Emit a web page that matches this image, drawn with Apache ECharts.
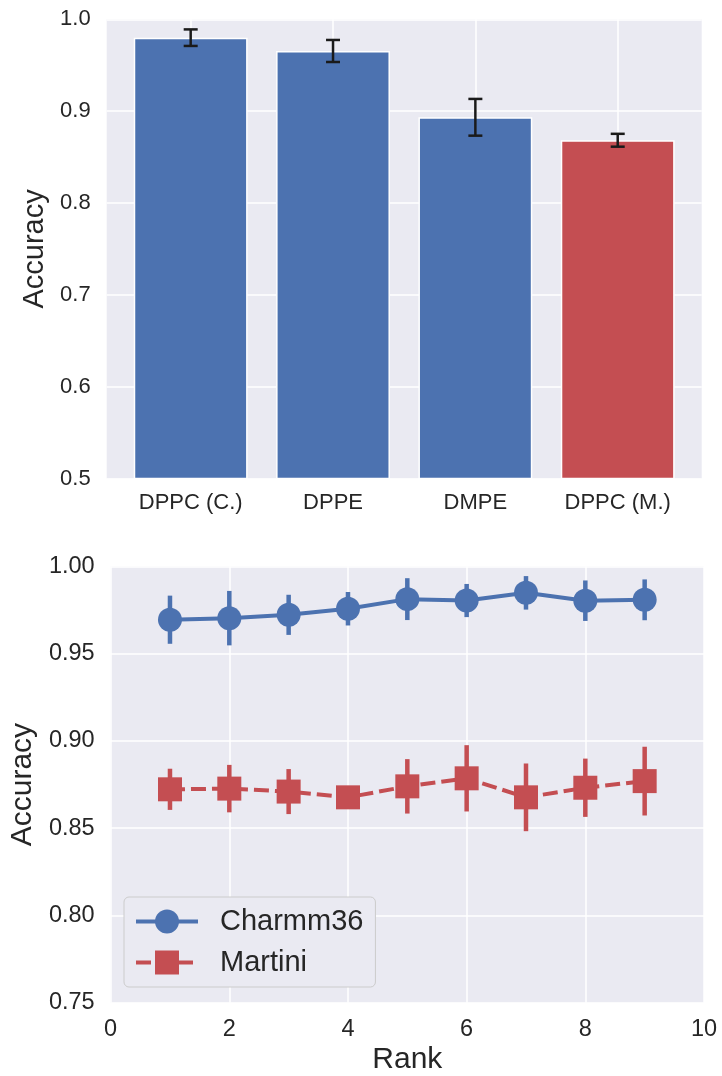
<!DOCTYPE html>
<html><head><meta charset="utf-8">
<script src="https://cdn.jsdelivr.net/npm/echarts@6/dist/echarts.min.js"></script>
<style>html,body{margin:0;padding:0;background:#fff}#c{width:722px;height:1076px}</style>
</head><body><div id="c"></div>
<script>
// ---- Top panel data ----
const lipids = ['DPPC (C.)', 'DPPE', 'DMPE', 'DPPC (M.)'];
const lipidAccuracy = [0.980, 0.9655, 0.8933, 0.8683];
const lipidError = [0.009, 0.012, 0.020, 0.007];
const lipidColors = ['#4C72B0', '#4C72B0', '#4C72B0', '#C44E52'];
const topTicks = [0.5, 0.6, 0.7, 0.8, 0.9, 1.0];

// ---- Bottom panel data ----
const ranks = [1, 2, 3, 4, 5, 6, 7, 8, 9];
const charmmAccuracy = [0.9695, 0.9704, 0.9723, 0.9758, 0.9813, 0.9805, 0.9849, 0.9804, 0.9809];
const charmmError = [0.0138, 0.0156, 0.0115, 0.0096, 0.0120, 0.0095, 0.0096, 0.0116, 0.0117];
const martiniAccuracy = [0.8723, 0.8727, 0.8710, 0.8677, 0.8740, 0.8786, 0.8677, 0.8732, 0.8770];
const martiniError = [0.0118, 0.0136, 0.0129, 0.0050, 0.0156, 0.0190, 0.0194, 0.0167, 0.0197];
const bottomTicks = [0.75, 0.80, 0.85, 0.90, 0.95, 1.00];

const BLUE = '#4C72B0', RED = '#C44E52', TXT = '#262626', FONT = '"Liberation Sans", Arial, sans-serif';
const catIdx = lipids.map((_, i) => i);

const chart = echarts.init(document.getElementById('c'), null, {renderer: 'canvas'});

function errRender(color, width, cap) {
  return function (params, api) {
    const x = api.value(0), lo = api.value(1), hi = api.value(2);
    const a = api.coord([x, lo]), b = api.coord([x, hi]);
    const st = {stroke: color, lineWidth: width};
    const ch = [{type: 'line', shape: {x1: a[0], y1: a[1], x2: b[0], y2: b[1]}, style: st}];
    if (cap > 0) {
      ch.push({type: 'line', shape: {x1: a[0] - cap, y1: a[1], x2: a[0] + cap, y2: a[1]}, style: st});
      ch.push({type: 'line', shape: {x1: b[0] - cap, y1: b[1], x2: b[0] + cap, y2: b[1]}, style: st});
    }
    return {type: 'group', children: ch};
  };
}

const option = {
  animation: false,
  textStyle: {fontFamily: FONT, color: TXT},
  grid: [
    {left: 106.7, right: 20.3, top: 19.3, height: 459.2, show: true, backgroundColor: '#EAEAF2', borderWidth: 0, containLabel: false},
    {left: 109.5, right: 18, top: 566.5, height: 436.2, show: true, backgroundColor: '#EAEAF2', borderWidth: 0, containLabel: false}
  ],
  xAxis: [
    {
      gridIndex: 0, type: 'value', min: -0.59, max: lipids.length - 1 + 0.59,
      axisLine: {show: false},
      axisTick: {show: false, customValues: catIdx},
      axisLabel: {customValues: catIdx, formatter: v => lipids[Math.round(v)], fontSize: 22, color: TXT, margin: 13, fontFamily: FONT},
      splitLine: {show: true, lineStyle: {color: '#FFFFFF', width: 1.5}}
    },
    {
      gridIndex: 1, type: 'value', min: 0, max: 10, interval: 2,
      name: 'Rank', nameLocation: 'middle', nameGap: 42,
      nameTextStyle: {fontSize: 30, color: TXT, fontFamily: FONT},
      axisLine: {show: false}, axisTick: {show: false},
      axisLabel: {fontSize: 23.5, color: TXT, margin: 15, fontFamily: FONT},
      splitLine: {show: true, lineStyle: {color: '#FFFFFF', width: 1.5}}
    }
  ],
  yAxis: [
    {
      gridIndex: 0, type: 'value', min: topTicks[0], max: topTicks[topTicks.length - 1], interval: 0.1,
      name: 'Accuracy', nameLocation: 'middle', nameRotate: 90, nameGap: 53,
      nameTextStyle: {fontSize: 29, color: TXT, fontFamily: FONT},
      axisLine: {show: false}, axisTick: {show: false},
      axisLabel: {formatter: v => v.toFixed(1), fontSize: 22, color: TXT, margin: 16, fontFamily: FONT},
      splitLine: {show: true, lineStyle: {color: '#FFFFFF', width: 1.5}}
    },
    {
      gridIndex: 1, type: 'value', min: bottomTicks[0], max: bottomTicks[bottomTicks.length - 1], interval: 0.05,
      name: 'Accuracy', nameLocation: 'middle', nameRotate: 90, nameGap: 65,
      nameTextStyle: {fontSize: 30, color: TXT, fontFamily: FONT},
      axisLine: {show: false}, axisTick: {show: false},
      axisLabel: {formatter: v => v.toFixed(2), fontSize: 23.5, color: TXT, margin: 16, fontFamily: FONT},
      splitLine: {show: true, lineStyle: {color: '#FFFFFF', width: 1.5}}
    }
  ],
  legend: {
    data: ['Charmm36', 'Martini'],
    orient: 'vertical', left: 124, top: 897,
    itemWidth: 62, itemHeight: 30, itemGap: 12,
    padding: [10, 12, 10, 10],
    selectedMode: false,
    lineStyle: {width: 4},
    textStyle: {fontSize: 29, color: TXT, fontFamily: FONT, padding: [0, 0, 0, 17]},
    backgroundColor: '#EAEAF2', borderColor: '#CCCCCC', borderWidth: 1, borderRadius: 5
  },
  series: [
    {
      type: 'bar', xAxisIndex: 0, yAxisIndex: 0, barWidth: '80%',
      data: lipids.map((n, i) => ({value: [i, lipidAccuracy[i]], itemStyle: {color: lipidColors[i]}})),
      itemStyle: {borderColor: '#FFFFFF', borderWidth: 1.5},
      z: 2
    },
    {
      type: 'custom', xAxisIndex: 0, yAxisIndex: 0,
      renderItem: errRender('#1a1a1a', 2.5, 7),
      data: lipids.map((n, i) => [i, lipidAccuracy[i] - lipidError[i], lipidAccuracy[i] + lipidError[i]]),
      encode: {x: 0, y: [1, 2]}, z: 5
    },
    {
      type: 'custom', xAxisIndex: 1, yAxisIndex: 1,
      renderItem: errRender(BLUE, 4.5, 0),
      data: ranks.map((r, i) => [r, charmmAccuracy[i] - charmmError[i], charmmAccuracy[i] + charmmError[i]]),
      encode: {x: 0, y: [1, 2]}, z: 3
    },
    {
      type: 'custom', xAxisIndex: 1, yAxisIndex: 1,
      renderItem: errRender(RED, 4.5, 0),
      data: ranks.map((r, i) => [r, martiniAccuracy[i] - martiniError[i], martiniAccuracy[i] + martiniError[i]]),
      encode: {x: 0, y: [1, 2]}, z: 3
    },
    {
      name: 'Charmm36', type: 'line', xAxisIndex: 1, yAxisIndex: 1,
      data: ranks.map((r, i) => [r, charmmAccuracy[i]]),
      symbol: 'circle', symbolSize: 24, showAllSymbol: true,
      itemStyle: {color: BLUE}, lineStyle: {color: BLUE, width: 4}, z: 4
    },
    {
      name: 'Martini', type: 'line', xAxisIndex: 1, yAxisIndex: 1,
      data: ranks.map((r, i) => [r, martiniAccuracy[i]]),
      symbol: 'rect', symbolSize: 24, showAllSymbol: true,
      itemStyle: {color: RED}, lineStyle: {color: RED, width: 4, type: [15, 6]}, z: 4
    }
  ]
};
chart.setOption(option);
</script>
</body></html>
